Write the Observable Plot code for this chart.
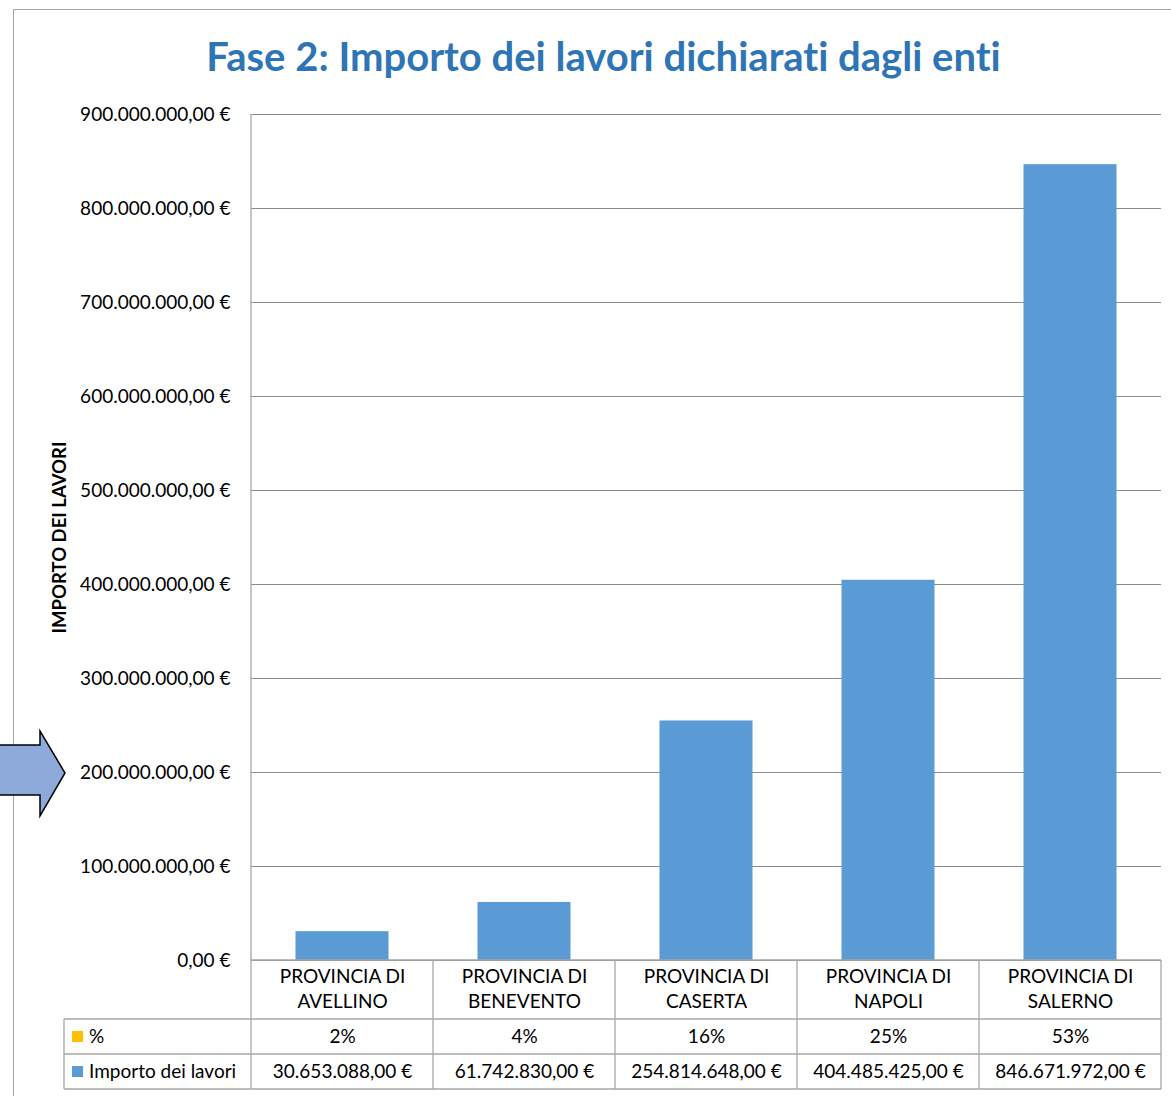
<!DOCTYPE html>
<html><head><meta charset="utf-8">
<script src="https://cdn.jsdelivr.net/npm/d3@7"></script>
<script src="https://cdn.jsdelivr.net/npm/@observablehq/plot@0.6"></script>
<style>
body{margin:0;background:#fff;font-family:Lato,sans-serif;font-variant-ligatures:none;}
svg text{font-variant-ligatures:none;}
#page{position:relative;width:1171px;height:1096px;overflow:hidden;background:#fff;}
#frame{position:absolute;left:13px;top:9px;right:0;bottom:0;border-top:1px solid #a6a6a6;border-left:1px solid #a6a6a6;}
#title{height:90px;box-sizing:border-box;padding-top:26px;padding-left:22px;text-align:center;font-family:Lato,sans-serif;font-weight:bold;font-size:40px;line-height:40px;color:#2e75b6;white-space:nowrap;font-variant-ligatures:none;}
#arrow{position:absolute;left:0;top:0;pointer-events:none;}
</style></head>
<body>
<div id="page">
  <div id="frame">
    <div id="title">Fase 2: Importo dei lavori dichiarati dagli enti</div>
    <div id="chart"></div>
  </div>
  <svg id="arrow" width="1171" height="1096"><polygon points="-5,745 40,745 40,731 65,773 40,816 40,795 -5,795" fill="#8eaadb" stroke="#000" stroke-width="1.5" stroke-linejoin="miter"/></svg>
</div>
<script>
// ---- data ----
const categories = ["PROVINCIA DI AVELLINO","PROVINCIA DI BENEVENTO","PROVINCIA DI CASERTA","PROVINCIA DI NAPOLI","PROVINCIA DI SALERNO"];
const importo = [30653088, 61742830, 254814648, 404485425, 846671972];
const percent = [2, 4, 16, 25, 53];
const yTicks = [0,100e6,200e6,300e6,400e6,500e6,600e6,700e6,800e6,900e6];
const seriesNames = ["%","Importo dei lavori"];
const seriesColors = ["#ffc000","#5b9bd5"];

const data = categories.map((c,i)=>({cat:c, value:importo[i], pct:percent[i]}));
const itLocale = d3.formatLocale({decimal:",",thousands:".",grouping:[3],currency:["","\u00a0€"]});
const euro = itLocale.format("$,.2f");

const chart = Plot.plot({
  width:1157, height:996,
  marginTop:14, marginBottom:136, marginLeft:237, marginRight:10,
  style:{fontFamily:"Lato, sans-serif", fontSize:"19px", color:"#000", background:"transparent", overflow:"visible"},
  x:{domain:categories, padding:0, label:null},
  y:{domain:[0,900e6], label:null},
  marks:[
    Plot.gridY(yTicks, {stroke:"#8c8c8c", strokeOpacity:1, strokeWidth:1}),
    Plot.barY(data, {x:"cat", y:"value", fill:"#5b9bd5", insetLeft:44.5, insetRight:44.5}),
    Plot.axisY(yTicks, {tickSize:0, tickPadding:21, fontSize:19, label:null, tickFormat:euro, fill:"#000"}),
    Plot.axisX({tickSize:0, tickPadding:5, fontSize:19, lineHeight:1.32, label:null, fill:"#000",
      tickFormat:d=>d.replace("PROVINCIA DI ","PROVINCIA DI\n")}),
    Plot.text(data, {x:"cat", text:d=>d.pct+"%", frameAnchor:"bottom", lineAnchor:"middle", dy:76, fontSize:19, fill:"#000"}),
    Plot.text(data, {x:"cat", text:d=>euro(d.value), frameAnchor:"bottom", lineAnchor:"middle", dy:111, fontSize:19, fill:"#000"}),
    Plot.text(["IMPORTO DEI LAVORI"], {frameAnchor:"left", textAnchor:"middle", lineAnchor:"middle", dx:-191, rotate:-90, text:d=>d, fontWeight:"bold", fontSize:18.5, fill:"#000"})
  ]
});
document.getElementById("chart").appendChild(chart);

// ---- data table borders & legend column, positioned from the plot's scales ----
const xs = chart.scale("x"), ys = chart.scale("y");
const bw = xs.bandwidth;
const xLeft = xs.apply(categories[0]);
const xRight = xs.apply(categories[categories.length-1]) + bw;
const yTop = ys.apply(900e6), yBase = ys.apply(0);
const row1 = yBase + 59, row2 = yBase + 94, row3 = yBase + 129;
const legLeft = 50;
const svg = d3.select(chart);
const g = svg.append("g").attr("stroke","#a6a6a6").attr("stroke-width",1.3).attr("fill","none");
const line = (x1,y1,x2,y2)=>g.append("line").attr("x1",x1).attr("y1",y1).attr("x2",x2).attr("y2",y2);
line(xLeft, yTop, xLeft, row3);
categories.forEach((c,i)=>{ if(i>0){ const xx = xs.apply(c); line(xx, yBase, xx, row3);} });
line(xRight, yBase, xRight, row3);
line(xLeft, yBase, xRight, yBase);
line(legLeft, row1, xRight, row1);
line(legLeft, row2, xRight, row2);
line(legLeft, row3, xRight, row3);
line(legLeft, row1, legLeft, row3);
[row1, row2].forEach((ry,i)=>{
  const cy = ry + 17.5;
  svg.append("rect").attr("x",legLeft+8).attr("y",cy-5.5).attr("width",11).attr("height",11).attr("fill",seriesColors[i]);
  svg.append("text").attr("x",legLeft+25).attr("y",cy).attr("dy","0.35em").attr("text-anchor","start")
    .attr("font-family","Lato, sans-serif").attr("font-size",19).attr("fill","#000").text(seriesNames[i]);
});
</script>
</body></html>
